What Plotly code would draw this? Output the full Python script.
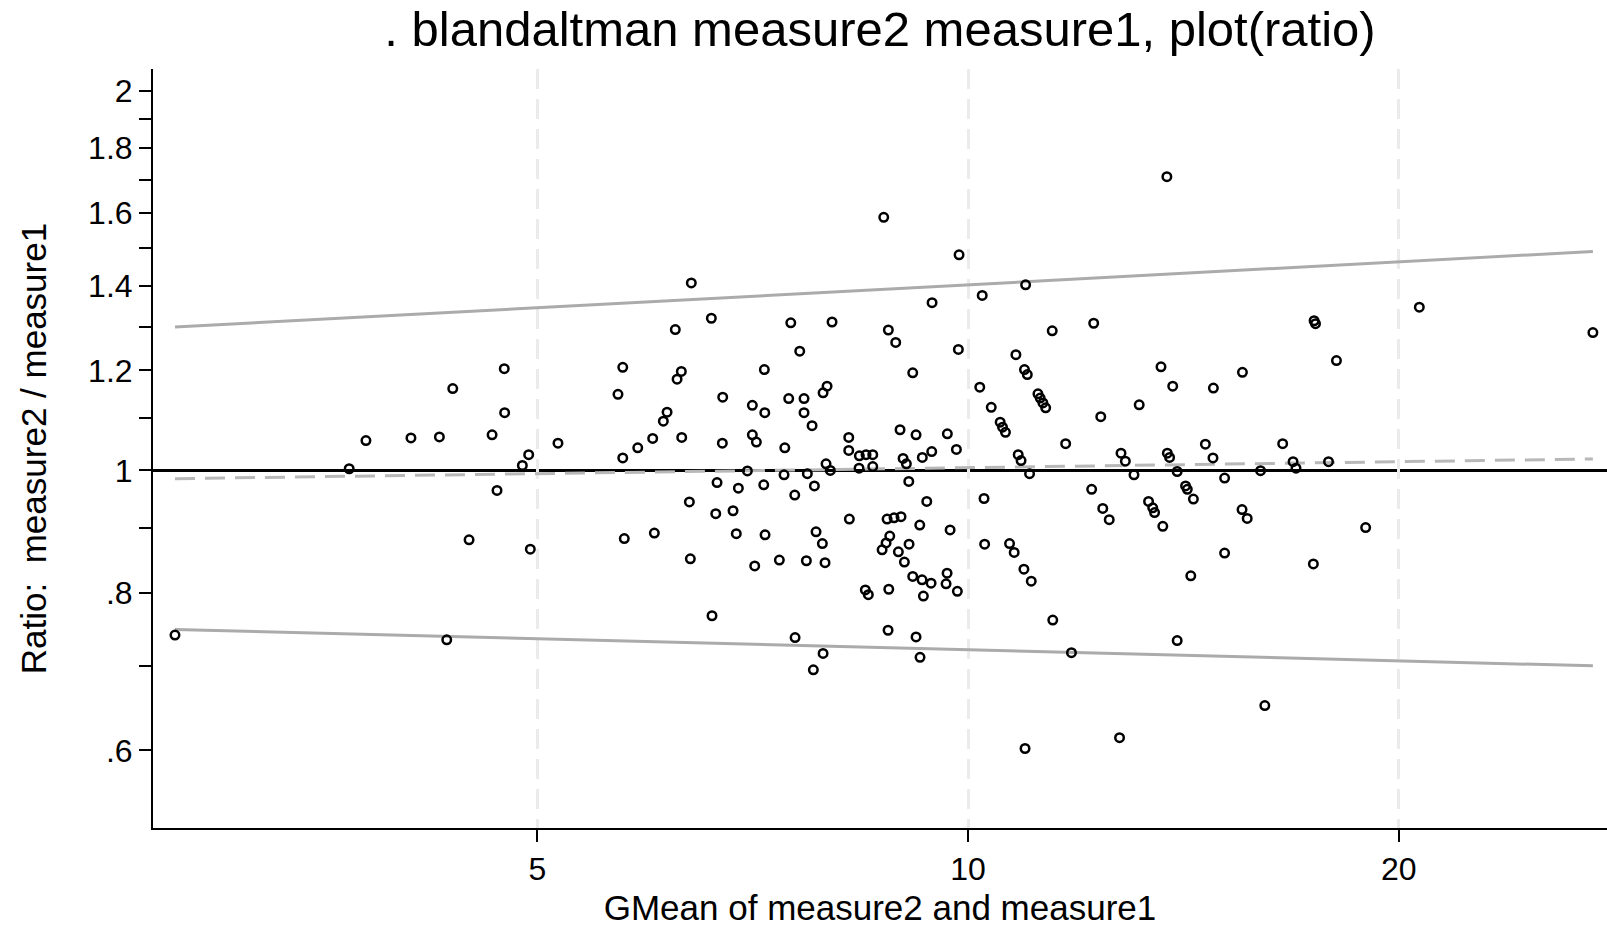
import plotly.graph_objects as go

# ---- data ----
gmean = [
    2.791, 3.694, 3.795, 4.080, 4.271, 4.364, 4.322, 4.480, 4.649, 4.686,
    4.741, 4.744, 4.881, 4.931, 4.944, 5.169, 5.693, 5.737, 5.737, 5.751,
    5.877, 6.020, 6.036, 6.124, 6.161,
    13.77, 8.731, 9.856, 6.406, 10.97, 10.23, 9.437, 6.616, 6.243, 7.518,
    8.034, 12.24, 11.45, 8.796, 8.901, 7.627, 9.845, 10.80, 7.205, 6.304,
    6.261, 10.95, 11.00, 9.148, 13.64, 13.90, 10.19, 7.970, 7.919, 6.738,
    7.493, 7.680, 11.19, 11.23, 11.28, 11.33, 7.067, 7.210, 7.680, 10.38,
    13.17, 12.38, 7.780, 10.53, 10.57, 10.62, 6.308, 6.734, 7.067, 7.113,
    7.446, 8.253, 8.253, 8.963, 9.197, 9.672, 9.814, 9.432, 9.290, 9.007,
    9.055, 8.395, 8.486, 8.578, 8.391, 8.578, 7.957, 8.012, 11.70, 10.84,
    10.89, 12.79, 12.88, 13.78, 13.83, 11.04, 13.06, 14.00, 7.011, 7.437,
    7.721,
    6.677, 6.910, 7.198, 7.809, 7.566, 9.090, 6.386, 6.663, 6.851, 9.357,
    10.26, 12.20, 12.42, 12.55, 13.37, 13.46, 13.50, 13.68, 8.261, 8.778,
    8.877, 8.977, 9.252, 9.715, 6.887, 7.213, 7.830, 7.910, 8.816, 8.764,
    8.708, 9.094, 8.939, 9.026, 10.27, 10.69, 10.77, 10.94, 11.07, 6.396,
    7.094, 7.381, 7.709, 7.944, 9.148, 9.286, 9.422, 9.668, 9.652, 9.829,
    9.306, 8.476, 8.517, 8.802, 6.623, 8.792, 9.197, 7.570, 7.919, 9.256,
    7.796, 11.46, 11.81, 14.00, 10.96, 12.76,
    20.67, 27.33, 17.45, 17.49, 18.09, 15.55, 14.84, 14.65, 16.59, 14.83,
    16.87, 16.95, 17.86, 15.11, 16.01,
    14.19, 14.23, 14.37, 15.54, 15.67, 18.96, 15.11, 17.43, 14.31, 16.12,
]
ratio = [
    0.7405, 1.003, 1.056, 1.061, 1.063, 1.161, 0.734, 0.881, 1.067, 0.964,
    1.204, 1.111, 1.009, 1.029, 0.866, 1.051, 1.149, 1.207, 1.023, 0.883,
    1.042, 1.060, 0.892, 1.094, 1.112,
    1.709, 1.587, 1.482, 1.408, 1.403, 1.376, 1.358, 1.320, 1.293, 1.309,
    1.311, 1.308, 1.290, 1.292, 1.263, 1.243, 1.247, 1.235, 1.202, 1.198,
    1.181, 1.202, 1.191, 1.195, 1.208, 1.166, 1.164, 1.166, 1.152, 1.143,
    1.140, 1.140, 1.150, 1.141, 1.131, 1.121, 1.126, 1.111, 1.111, 1.122,
    1.127, 1.103, 1.085, 1.092, 1.082, 1.072, 1.062, 1.051, 1.067, 1.053,
    1.042, 1.062, 1.037, 1.077, 1.067, 1.069, 1.039, 1.035, 1.024, 1.022,
    1.012, 1.027, 1.029, 1.029, 1.004, 1.007, 1.012, 1.000, 1.050, 1.029,
    1.018, 1.032, 1.017, 1.032, 1.024, 0.994, 0.992, 0.998, 0.999, 0.992,
    0.994,
    0.978, 0.968, 0.974, 0.972, 0.956, 0.980, 0.944, 0.924, 0.929, 0.945,
    0.950, 0.966, 0.933, 0.914, 0.945, 0.934, 0.926, 0.903, 0.915, 0.915,
    0.917, 0.919, 0.905, 0.897, 0.891, 0.889, 0.894, 0.875, 0.887, 0.876,
    0.865, 0.874, 0.862, 0.846, 0.874, 0.875, 0.861, 0.835, 0.817, 0.851,
    0.840, 0.849, 0.848, 0.845, 0.824, 0.819, 0.814, 0.829, 0.813, 0.802,
    0.795, 0.804, 0.797, 0.805, 0.767, 0.747, 0.738, 0.737, 0.716, 0.711,
    0.695, 0.761, 0.717, 0.733, 0.602, 0.614,
    1.347, 1.286, 1.314, 1.307, 1.222, 1.196, 1.162, 1.049, 1.050, 1.023,
    1.016, 1.004, 1.016, 0.986, 0.9995,
    0.972, 0.966, 0.949, 0.931, 0.916, 0.901, 0.860, 0.843, 0.825, 0.651,
]

line_x = [2.791, 27.33]          # fitted lines span min..max GMean
upper_loa = [1.299, 1.491]
mean_ratio = [0.985, 1.021]
lower_loa = [0.748, 0.700]

x_ticks = [5, 10, 20]
x_ticktext = ["5", "10", "20"]
y_ticks = [0.6, 0.7, 0.8, 0.9, 1.0, 1.1, 1.2, 1.3, 1.4, 1.5, 1.6, 1.7, 1.8, 1.9, 2.0]
y_ticktext = [".6", "", ".8", "", "1", "", "1.2", "", "1.4", "", "1.6", "", "1.8", "", "2"]

FONT = "Liberation Sans, Arial, Helvetica, sans-serif"

fig = go.Figure()

fig.add_trace(go.Scatter(x=line_x, y=upper_loa, mode="lines",
                         line=dict(color="#ababab", width=3), hoverinfo="skip"))
fig.add_trace(go.Scatter(x=line_x, y=lower_loa, mode="lines",
                         line=dict(color="#ababab", width=3), hoverinfo="skip"))
fig.add_trace(go.Scatter(x=line_x, y=mean_ratio, mode="lines",
                         line=dict(color="#b8b8b8", width=3, dash="20px,10px"),
                         hoverinfo="skip"))

fig.add_hline(y=1, line=dict(color="black", width=3), layer="below")

fig.add_trace(go.Scatter(x=gmean, y=ratio, mode="markers",
                         marker=dict(symbol="circle-open", size=8.5, color="black",
                                     line=dict(color="black", width=2.5))))

fig.update_layout(
    width=1607, height=927,
    margin=dict(l=153, r=0, t=69, b=99),
    paper_bgcolor="white", plot_bgcolor="white",
    showlegend=False,
    font=dict(family=FONT, color="black"),
    title=dict(text=". blandaltman measure2 measure1, plot(ratio)",
               x=0.5, xref="paper", xanchor="center",
               y=1 - 29 / 927, yref="container", yanchor="middle",
               font=dict(size=49, family=FONT, color="black")),
)

fig.update_xaxes(
    type="log", range=[0.4304, 1.4465],
    tickvals=x_ticks, ticktext=x_ticktext,
    ticks="outside", ticklen=12, tickwidth=2, tickcolor="black",
    tickfont=dict(size=32, family=FONT, color="black"),
    showline=True, linecolor="black", linewidth=2,
    showgrid=True, gridcolor="#ebebeb", gridwidth=2.5, griddash="20px,10px",
    zeroline=False,
    title=dict(text="GMean of measure2 and measure1",
               font=dict(size=35, family=FONT, color="black"), standoff=9),
)

fig.update_yaxes(
    type="log", range=[-0.28341, 0.31811],
    tickvals=y_ticks, ticktext=y_ticktext,
    ticks="outside", ticklen=12, tickwidth=2, tickcolor="black",
    tickfont=dict(size=32, family=FONT, color="black"),
    showline=True, linecolor="black", linewidth=2,
    showgrid=False, zeroline=False,
    title=dict(text="Ratio:\u00a0 measure2 / measure1",
               font=dict(size=35, family=FONT, color="black"), standoff=31),
)

fig.write_html("out.html")
